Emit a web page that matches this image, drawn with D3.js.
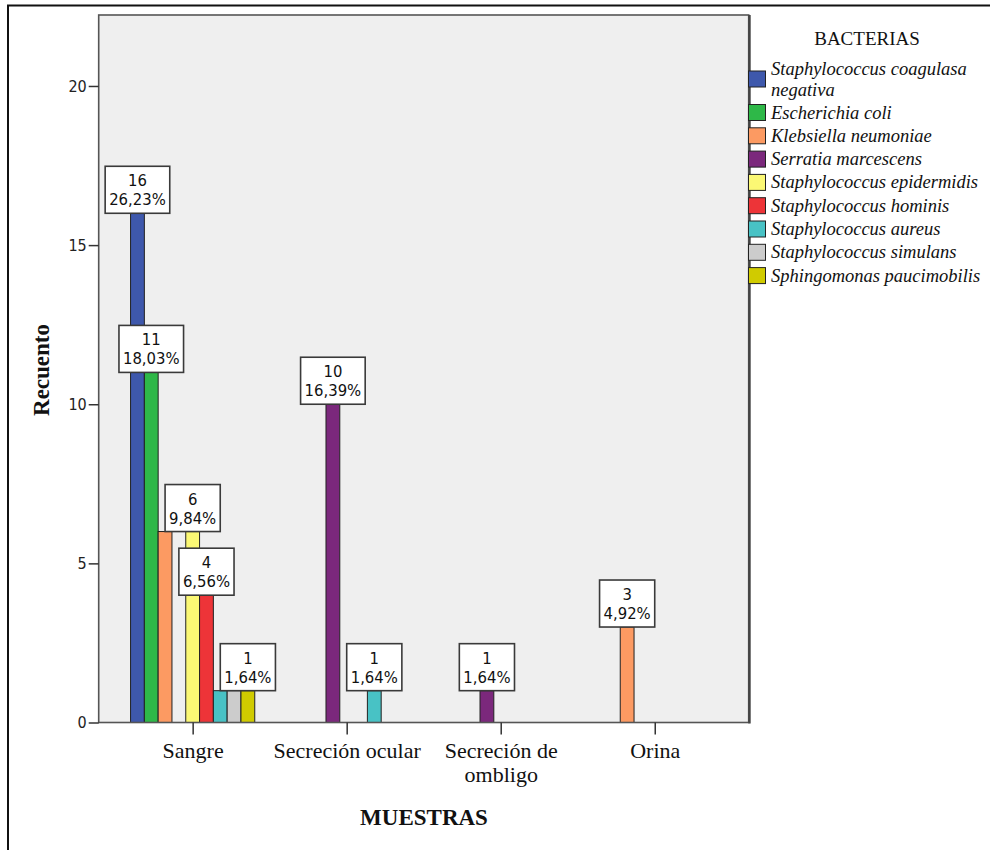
<!DOCTYPE html>
<html>
<head>
<meta charset="utf-8">
<script src="https://cdn.jsdelivr.net/npm/d3@7"></script>
<style>
  html, body { margin: 0; padding: 0; background: #ffffff; }
  svg { display: block; }
</style>
</head>
<body>
<svg id="chart" width="990" height="850"></svg>
<script>
// Sample types (x axis) and bacteria (series)
const categories = ["Sangre", "Secreción ocular", "Secreción de ombligo", "Orina"];
const categoryLines = [["Sangre"], ["Secreción ocular"], ["Secreción de", "ombligo"], ["Orina"]];
const bacteria = [
  "Staphylococcus coagulasa negativa",
  "Escherichia coli",
  "Klebsiella neumoniae",
  "Serratia marcescens",
  "Staphylococcus epidermidis",
  "Staphylococcus hominis",
  "Staphylococcus aureus",
  "Staphylococcus simulans",
  "Sphingomonas paucimobilis"
];
const legendLines = [
  ["Staphylococcus coagulasa", "negativa"],
  ["Escherichia coli"],
  ["Klebsiella neumoniae"],
  ["Serratia marcescens"],
  ["Staphylococcus epidermidis"],
  ["Staphylococcus hominis"],
  ["Staphylococcus aureus"],
  ["Staphylococcus simulans"],
  ["Sphingomonas paucimobilis"]
];
const colors = ["#3e58ac", "#2eb848", "#fc9a62", "#7b287c", "#fbf874", "#ed3438", "#48c2c5", "#cccccc", "#d0cb00"];

// Counts per sample type, one entry per bacterium (same order as `bacteria`)
const sangre           = [16, 11, 6, 0, 6, 4, 1, 1, 1];
const secrecionOcular  = [0, 0, 0, 10, 0, 0, 1, 0, 0];
const secrecionOmbligo = [0, 0, 0, 1, 0, 0, 0, 0, 0];
const orina            = [0, 0, 3, 0, 0, 0, 0, 0, 0];
const countsByCategory = [sangre, secrecionOcular, secrecionOmbligo, orina];

const yTicks = [0, 5, 10, 15, 20];
// Bars carrying a value label: [category index, bacterium index]
const labelledBars = [[0, 0], [0, 1], [0, 4], [0, 5], [0, 8], [1, 3], [1, 6], [2, 3], [3, 2]];

const svg = d3.select("#chart");
const serif = "'Liberation Serif', 'Times New Roman', serif";
const sansNarrow = "'DejaVu Sans Condensed', 'DejaVu Sans', Verdana, sans-serif";

// Outer frame (left and top edges)
svg.append("path")
  .attr("d", "M8,850 L8,5.5 L990,5.5")
  .attr("fill", "none").attr("stroke", "#111").attr("stroke-width", 2);

const plot = { left: 98.7, right: 748.7, top: 15, bottom: 722.5 };
const total = d3.sum(countsByCategory.flat());

const x = d3.scalePoint().domain(categories).range([plot.left, plot.right]).padding(0.61);
const xInner = d3.scaleBand().domain(d3.range(bacteria.length)).range([-62.1, 62.1]).padding(0);
const y = d3.scaleLinear().domain([0, 22.23]).range([plot.bottom, plot.top]);

// Plot background
svg.append("rect")
  .attr("x", plot.left).attr("y", plot.top)
  .attr("width", plot.right - plot.left).attr("height", plot.bottom - plot.top)
  .attr("fill", "#efefef");

// Bars
const barData = [];
countsByCategory.forEach((vals, ci) => {
  vals.forEach((v, bi) => { if (v > 0) barData.push({ ci, bi, v }); });
});
svg.append("g").selectAll("rect").data(barData).join("rect")
  .attr("x", d => x(categories[d.ci]) + xInner(d.bi))
  .attr("y", d => y(d.v))
  .attr("width", xInner.bandwidth())
  .attr("height", d => y(0) - y(d.v))
  .attr("fill", d => colors[d.bi])
  .attr("stroke", "#222").attr("stroke-width", 1);

// Plot border
svg.append("rect")
  .attr("x", plot.left).attr("y", plot.top)
  .attr("width", plot.right - plot.left).attr("height", plot.bottom - plot.top)
  .attr("fill", "none").attr("stroke", "#555").attr("stroke-width", 1.6);
svg.append("line")
  .attr("x1", plot.right + 0.8).attr("x2", plot.right + 0.8)
  .attr("y1", plot.top).attr("y2", plot.bottom + 1)
  .attr("stroke", "#444").attr("stroke-width", 2.4);

// Y axis
const yAxis = d3.axisLeft(y).tickValues(yTicks).tickSize(10).tickPadding(2).tickFormat(d3.format("d"));
const gy = svg.append("g").attr("transform", `translate(${plot.left},0)`).call(yAxis);
gy.select(".domain").remove();
gy.selectAll(".tick line").attr("stroke", "#333").attr("stroke-width", 1.5);
gy.selectAll(".tick text").attr("font-family", sansNarrow).attr("font-size", 16).attr("fill", "#222");

// X axis
const xAxis = d3.axisBottom(x).tickSize(12).tickFormat("");
const gx = svg.append("g").attr("transform", `translate(0,${plot.bottom})`).call(xAxis);
gx.select(".domain").remove();
gx.selectAll(".tick line").attr("stroke", "#333").attr("stroke-width", 1.5);
gx.selectAll(".tick").each(function (d, i) {
  const t = d3.select(this).append("text")
    .attr("font-family", serif).attr("font-size", 22).attr("fill", "#111")
    .attr("text-anchor", "middle");
  categoryLines[i].forEach((line, k) => {
    t.append("tspan").attr("x", 0).attr("y", 35 + k * 24).text(line);
  });
});

// Axis titles
svg.append("text")
  .attr("transform", `translate(49,370) rotate(-90)`)
  .attr("text-anchor", "middle")
  .attr("font-family", serif).attr("font-weight", "bold").attr("font-size", 23)
  .attr("fill", "#111").text("Recuento");
svg.append("text")
  .attr("x", 424).attr("y", 825).attr("text-anchor", "middle")
  .attr("font-family", serif).attr("font-weight", "bold").attr("font-size", 23)
  .attr("fill", "#111").text("MUESTRAS");

// Value labels (count and share of total)
const pct = d3.format(".2f");
const labels = svg.append("g").selectAll("g")
  .data(labelledBars.map(([ci, bi]) => ({ ci, bi, v: countsByCategory[ci][bi] })))
  .join("g")
  .attr("transform", d => `translate(${x(categories[d.ci]) + xInner(d.bi) + xInner.bandwidth() / 2},${y(d.v)})`);
labels.each(function (d) {
  const g = d3.select(this);
  const lines = [String(d.v), pct(d.v / total * 100).replace(".", ",") + "%"];
  const txt = g.append("text")
    .attr("font-family", sansNarrow).attr("font-size", 16.5).attr("fill", "#111")
    .attr("text-anchor", "middle");
  lines.forEach((line, k) => {
    txt.append("tspan").attr("x", 0).attr("y", -27 + k * 19).text(line);
  });
  const bb = txt.node().getBBox();
  const w = bb.width + 8, h = 47;
  g.insert("rect", "text")
    .attr("x", -w / 2).attr("y", -h).attr("width", w).attr("height", h)
    .attr("fill", "#ffffff").attr("stroke", "#3a3a3a").attr("stroke-width", 1.6);
});

// Legend
const legend = svg.append("g");
legend.append("text")
  .attr("x", 867).attr("y", 45).attr("text-anchor", "middle")
  .attr("font-family", serif).attr("font-size", 19).attr("fill", "#111")
  .text("BACTERIAS");
const rowCenters = bacteria.map((b, i) => i === 0 ? 79 : 112.5 + (i - 1) * 23.3);
bacteria.forEach((b, i) => {
  const c = rowCenters[i];
  legend.append("rect")
    .attr("x", 748.5).attr("y", c - 8).attr("width", 17).attr("height", 16)
    .attr("fill", colors[i]).attr("stroke", "#222").attr("stroke-width", 1);
  const multi = legendLines[i].length > 1;
  const t = legend.append("text")
    .attr("font-family", serif).attr("font-style", "italic").attr("font-size", 18.5)
    .attr("fill", "#111");
  legendLines[i].forEach((line, k) => {
    t.append("tspan").attr("x", 771)
      .attr("y", multi ? c - 4 + k * 21 : c + 6)
      .text(line);
  });
});
</script>
</body>
</html>
